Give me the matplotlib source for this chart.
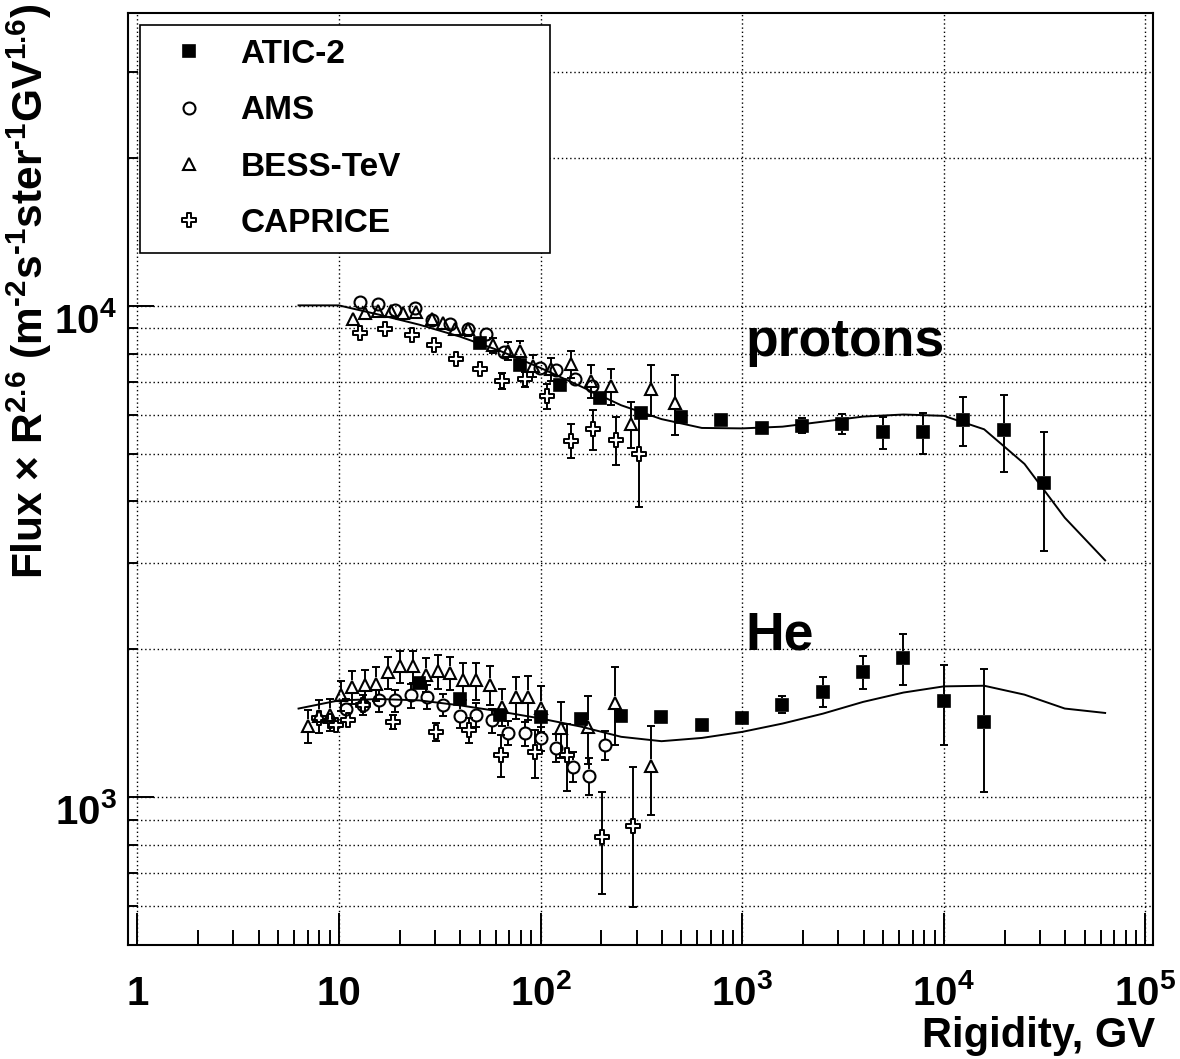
import numpy as np
import matplotlib
matplotlib.use('Agg')
import matplotlib.pyplot as plt
from matplotlib.path import Path
from matplotlib.lines import Line2D
from matplotlib.ticker import FixedLocator, NullFormatter, LogLocator
import matplotlib.transforms as mtransforms

# ---------------- data ----------------
# protons
R_atic_p = [50, 79, 125, 198, 314, 497, 788, 1250, 1980, 3140, 4970, 7880, 12500, 19800, 31400]
F_atic_p = [8425, 7578, 6900, 6510, 6060, 5932, 5866, 5634, 5702, 5750, 5530, 5530, 5866, 5598, 4356]
E_atic_p = [60, 60, 60, 70, 80, 90, 110, 150, 200, 270, 420, 530, 670, 1000, 1180]

R_ams_p = [12.7, 15.6, 18.9, 23.8, 28.8, 35.5, 43.7, 53.5, 65.6, 99.3, 120, 148, 179]
F_ams_p = [10190, 10080, 9815, 9925, 9352, 9180, 8996, 8760, 8063, 7462, 7414, 7094, 6880]
E_ams_p = [120, 120, 120, 130, 130, 140, 140, 150, 150, 170, 180, 190, 200]

R_bess_p = [11.7, 13.4, 15.6, 18.2, 20.8, 24, 28.8, 32.8, 37.5, 43.7, 58.2, 69, 79.4, 91.8,
            113, 141, 177, 223, 280, 352, 464]
F_bess_p = [9428, 9695, 9769, 9769, 9695, 9723, 9397, 9252, 8968, 8968, 8320, 8100, 8100, 7553,
            7438, 7614, 7040, 6880, 5750, 6770, 6340]
E_bess_p = [200, 200, 220, 220, 230, 240, 250, 260, 260, 270, 300, 340, 380, 380,
            410, 490, 530, 580, 620, 810, 890]

R_cap_p = [12.8, 16.9, 23.0, 29.5, 38.3, 49.9, 64.7, 83.6, 108, 141, 182, 236, 307]
F_cap_p = [8830, 8968, 8720, 8320, 7790, 7438, 7040, 7094, 6545, 5320, 5614, 5347, 4997]
E_cap_p = [150, 150, 160, 170, 180, 200, 250, 260, 385, 425, 530, 610, 1100]

# helium
R_atic_he = [25.1, 39.8, 63.1, 100, 158, 251, 398, 631, 1000, 1585, 2512, 3981, 6310, 10000, 15850]
F_atic_he = [1711, 1587, 1468, 1457, 1445, 1464, 1454, 1401, 1450, 1543, 1638, 1798, 1920, 1567, 1423]
E_atic_he = [20, 20, 20, 20, 20, 25, 25, 30, 35, 62, 115, 140, 230, 290, 400]

R_ams_he = [10.9, 13.1, 15.8, 18.9, 22.9, 27.4, 32.8, 39.7, 48.1, 57.5, 69, 83.6, 100, 120, 145, 174, 209]
F_ams_he = [1515, 1543, 1574, 1574, 1612, 1600, 1543, 1464, 1473, 1434, 1354, 1348, 1317, 1260, 1153, 1105, 1276]
E_ams_he = [70, 75, 80, 80, 90, 90, 80, 80, 85, 80, 75, 75, 75, 82, 80, 95, 85]

R_bess_he = [7.0, 7.95, 8.99, 10.2, 11.65, 13.4, 15.3, 17.5, 20.2, 23.3, 26.9, 31.0, 35.7, 41.3,
             48.1, 56, 64.5, 75.4, 86.8, 101, 127, 172, 234, 352]
F_bess_he = [1397, 1464, 1473, 1612, 1677, 1689, 1702, 1798, 1846, 1846, 1776, 1804, 1790, 1729,
             1729, 1694, 1527, 1600, 1600, 1520, 1384, 1390, 1558, 1158]
E_bess_he = [105, 110, 110, 115, 130, 130, 135, 135, 140, 140, 140, 140, 140, 150,
             150, 155, 130, 160, 165, 160, 180, 220, 280, 240]

R_cap_he = [7.95, 8.99, 9.7, 11.1, 13.1, 18.5, 30.4, 44.2, 64, 93.7, 136, 201, 288]
F_cap_he = [1450, 1427, 1401, 1434, 1543, 1423, 1358, 1368, 1221, 1233, 1221, 831, 875]
E_cap_he = [40, 40, 40, 40, 40, 45, 55, 80, 120, 140, 190, 195, 278]

# model curves
R_mod = [6.31, 10, 15.85, 25.1, 39.8, 63.1, 100, 158.5, 251, 398, 631, 1000, 1585, 2512,
         3981, 6310, 10000, 15850, 25120, 39810, 63100]
F_mod_p = [10030, 10030, 9600, 9160, 8666, 8100, 7480, 6860, 6280, 5885, 5646, 5634, 5680, 5815,
           5955, 6013, 5975, 5610, 4770, 3706, 3035]
F_mod_he = [1515, 1574, 1584, 1574, 1538, 1494, 1446, 1392, 1327, 1300, 1320, 1358, 1412, 1479,
            1563, 1633, 1681, 1686, 1617, 1515, 1484]

x_ticks = [1, 10, 100, 1000, 10000, 100000]
x_tick_labels = ['1', '10', '$10^{2}$', '$10^{3}$', '$10^{4}$', '$10^{5}$']
y_ticks = [1000, 10000]
y_tick_labels = ['$10^{3}$', '$10^{4}$']
legend_labels = ['ATIC-2', 'AMS', 'BESS-TeV', 'CAPRICE']

# ---------------- style ----------------
plt.rcParams.update({
    'font.family': ['Liberation Sans', 'DejaVu Sans'],
    'font.weight': 'bold',
    'mathtext.fontset': 'custom',
    'mathtext.rm': 'Liberation Sans:bold',
    'mathtext.it': 'Liberation Sans:bold',
    'mathtext.bf': 'Liberation Sans:bold',
    'mathtext.sf': 'Liberation Sans:bold',
})

W, H = 1180, 1059
fig = plt.figure(figsize=(W / 100, H / 100), dpi=100)
L, R, T, B = 128, 1153, 13, 945
ax = fig.add_axes([L / W, 1 - B / H, (R - L) / W, (B - T) / H])
ax.set_xscale('log')
ax.set_yscale('log')
ax.set_xlim(0.9, 1.09e5)
ax.set_ylim(500, 3.95e4)

for sp in ax.spines.values():
    sp.set_linewidth(1.5)

ax.xaxis.set_major_locator(FixedLocator(x_ticks))
ax.xaxis.set_minor_locator(LogLocator(base=10, subs=np.arange(2, 10)))
ax.yaxis.set_major_locator(FixedLocator(y_ticks))
ax.yaxis.set_minor_locator(LogLocator(base=10, subs=np.arange(2, 10)))
ax.xaxis.set_major_formatter(NullFormatter())
ax.xaxis.set_minor_formatter(NullFormatter())
ax.yaxis.set_major_formatter(NullFormatter())
ax.yaxis.set_minor_formatter(NullFormatter())
ax.tick_params(axis='x', which='major', direction='in', length=23, width=1.4, top=False)
ax.tick_params(axis='x', which='minor', direction='in', length=11, width=1.4, top=False)
ax.tick_params(axis='y', which='major', direction='in', length=19, width=1.4, right=False)
ax.tick_params(axis='y', which='minor', direction='in', length=7.5, width=1.4, right=False)

gridkw = dict(color='k', linestyle=(0, (1, 2)), linewidth=1.0)
ax.grid(True, which='major', axis='x', **gridkw)
ax.grid(True, which='both', axis='y', **gridkw)
ax.set_axisbelow(True)

# tick labels as texts
xt_trans = mtransforms.blended_transform_factory(ax.transData, ax.transAxes) + \
    mtransforms.ScaledTranslation(0, -60 / 100, fig.dpi_scale_trans)
for xv, lab in zip(x_ticks, x_tick_labels):
    ax.text(xv, 0, lab, transform=xt_trans, ha='center', va='baseline', fontsize=29,
            fontweight='bold', clip_on=False)
yt_trans = mtransforms.blended_transform_factory(ax.transAxes, ax.transData) + \
    mtransforms.ScaledTranslation(-11 / 100, -27 / 100, fig.dpi_scale_trans)
for yv, lab in zip(y_ticks, y_tick_labels):
    ax.text(0, yv, lab, transform=yt_trans, ha='right', va='baseline', fontsize=29,
            fontweight='bold', clip_on=False)

# ---------------- markers ----------------
a = 1 / 3.
cross_verts = [(-a, 1), (a, 1), (a, a), (1, a), (1, -a), (a, -a), (a, -1), (-a, -1),
               (-a, -a), (-1, -a), (-1, a), (-a, a), (-a, 1)]
cross = Path(cross_verts, [Path.MOVETO] + [Path.LINETO] * 11 + [Path.CLOSEPOLY])

styles = {
    'atic': dict(marker='s', ms=8.8, mfc='k', mec='k', mew=1.2, gap=7),
    'ams': dict(marker='o', ms=8.6, mfc='none', mec='k', mew=1.5, gap=6.5),
    'bess': dict(marker='^', ms=9.0, mfc='none', mec='k', mew=1.5, gap=6.5),
    'cap': dict(marker=cross, ms=9.6, mfc='white', mec='k', mew=1.4, gap=6.5),
}

# model curves
ax.plot(R_mod, F_mod_p, color='k', lw=1.4, zorder=2)
ax.plot(R_mod, F_mod_he, color='k', lw=1.4, zorder=2)

# pixels per decade on y (from the axis transform)
y0d = ax.transData.transform([(1, 1000), (1, 10000)])[:, 1]
ppd = y0d[1] - y0d[0]


def draw_series(xs, ys, es, st):
    f = 10 ** (st['gap'] / ppd)
    bx, blo, bhi, cx, cy = [], [], [], [], []
    for x, y, e in zip(xs, ys, es):
        hi = y + e
        lo = max(y - e, 1.0)
        if hi > y * f:
            bx.append(x); blo.append(y * f); bhi.append(hi); cx.append(x); cy.append(hi)
        if lo < y / f:
            bx.append(x); blo.append(lo); bhi.append(y / f); cx.append(x); cy.append(lo)
    if bx:
        ax.vlines(bx, blo, bhi, color='k', lw=1.4, zorder=3)
        ax.plot(cx, cy, ls='none', marker='_', ms=5.5, mew=1.4, color='k', zorder=3)
    ax.plot(xs, ys, ls='none', marker=st['marker'], ms=st['ms'], mfc=st['mfc'],
            mec=st['mec'], mew=st['mew'], zorder=4)


draw_series(R_cap_p, F_cap_p, E_cap_p, styles['cap'])
draw_series(R_bess_p, F_bess_p, E_bess_p, styles['bess'])
draw_series(R_ams_p, F_ams_p, E_ams_p, styles['ams'])
draw_series(R_atic_p, F_atic_p, E_atic_p, styles['atic'])
draw_series(R_cap_he, F_cap_he, E_cap_he, styles['cap'])
draw_series(R_bess_he, F_bess_he, E_bess_he, styles['bess'])
draw_series(R_ams_he, F_ams_he, E_ams_he, styles['ams'])
draw_series(R_atic_he, F_atic_he, E_atic_he, styles['atic'])

# ---------------- legend ----------------
handles = []
for key in ['atic', 'ams', 'bess', 'cap']:
    st = styles[key]
    handles.append(Line2D([], [], ls='none', marker=st['marker'], ms=st['ms'], mfc=st['mfc'],
                          mec=st['mec'], mew=st['mew']))
leg = ax.legend(handles, legend_labels, loc='upper left', mode='expand',
                bbox_to_anchor=(140 / W, 0, 410 / W, 1 - 25 / H), bbox_transform=fig.transFigure,
                borderaxespad=0, prop={'size': 24, 'weight': 'bold'}, fancybox=False,
                framealpha=1, edgecolor='k', handlelength=2.1, handletextpad=0.5,
                borderpad=0.42, labelspacing=0.76)
leg.get_frame().set_linewidth(1.2)

# ---------------- texts ----------------
fig.text(745 / W, 1 - 356 / H, 'protons', fontsize=38.5, fontweight='bold', ha='left', va='baseline')
fig.text(745 / W, 1 - 650 / H, 'He', fontsize=38.5, fontweight='bold', ha='left', va='baseline')
fig.text(1155 / W, 1 - 1047 / H, 'Rigidity, GV', fontsize=30, fontweight='bold', ha='right',
         va='baseline')
fig.text(5 / W, 1 - 4 / H,
         'Flux $\\times$ R$^{2.6}$ (m$^{\u20102}$s$^{\u20101}$ster$^{\u20101}$GV$^{1.6}$)',
         rotation=90, ha='left', va='top', fontsize=30.5, fontweight='bold')

fig.savefig('out.png', dpi=100)
